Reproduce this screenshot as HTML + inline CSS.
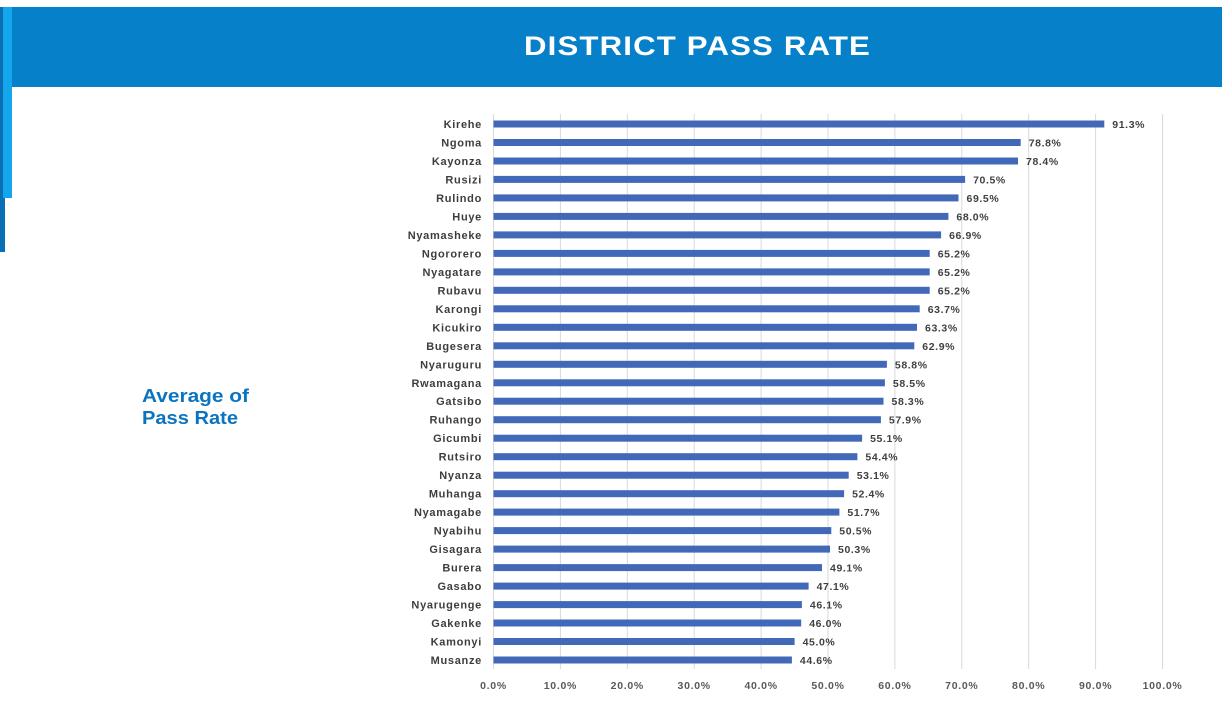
<!DOCTYPE html>
<html><head><meta charset="utf-8">
<style>
html,body{margin:0;padding:0;background:#fff;}
body{width:1222px;height:719px;overflow:hidden;}
svg{display:block;overflow:hidden;}
.cat{font-family:"Liberation Sans",sans-serif;font-weight:bold;font-size:11px;fill:#3d3d3d;letter-spacing:0.7px;}
.val{font-family:"Liberation Sans",sans-serif;font-weight:bold;font-size:10.5px;fill:#404040;letter-spacing:0.6px;}
.tick{font-family:"Liberation Sans",sans-serif;font-weight:bold;font-size:10.5px;fill:#595959;letter-spacing:0.7px;}
</style></head>
<body>
<svg width="1222" height="719" viewBox="0 0 1222 719" xmlns="http://www.w3.org/2000/svg">
<rect width="1222" height="719" fill="#ffffff"/>
<!-- header -->
<rect x="0" y="7" width="1222" height="80" fill="#0680c8"/>
<rect x="0" y="7" width="5" height="245" fill="#0a6fb5"/>
<rect x="3" y="7" width="9" height="191" fill="#14a6ec"/>
<text x="524" y="55" font-family="Liberation Sans, sans-serif" font-weight="bold" font-size="27" fill="#ffffff" letter-spacing="1" textLength="347" lengthAdjust="spacingAndGlyphs">DISTRICT PASS RATE</text>

<!-- axis title -->
<text x="142" y="402" font-family="Liberation Sans, sans-serif" font-weight="bold" font-size="18.5" fill="#0b74c0" textLength="107" lengthAdjust="spacingAndGlyphs">Average of</text>
<text x="142" y="424" font-family="Liberation Sans, sans-serif" font-weight="bold" font-size="18.5" fill="#0b74c0" textLength="96" lengthAdjust="spacingAndGlyphs">Pass Rate</text>

<!-- gridlines -->
<g stroke="#d9d9d9" stroke-width="1">
<line x1="493.5" y1="114" x2="493.5" y2="669"/>
<line x1="560.4" y1="114" x2="560.4" y2="669"/>
<line x1="627.3" y1="114" x2="627.3" y2="669"/>
<line x1="694.2" y1="114" x2="694.2" y2="669"/>
<line x1="761.1" y1="114" x2="761.1" y2="669"/>
<line x1="828" y1="114" x2="828" y2="669"/>
<line x1="894.9" y1="114" x2="894.9" y2="669"/>
<line x1="961.8" y1="114" x2="961.8" y2="669"/>
<line x1="1028.7" y1="114" x2="1028.7" y2="669"/>
<line x1="1095.6" y1="114" x2="1095.6" y2="669"/>
<line x1="1162.5" y1="114" x2="1162.5" y2="669"/>
</g>

<!-- tick labels -->
<g class="tick" text-anchor="middle">
<text x="493.5" y="689">0.0%</text>
<text x="560.4" y="689">10.0%</text>
<text x="627.3" y="689">20.0%</text>
<text x="694.2" y="689">30.0%</text>
<text x="761.1" y="689">40.0%</text>
<text x="828" y="689">50.0%</text>
<text x="894.9" y="689">60.0%</text>
<text x="961.8" y="689">70.0%</text>
<text x="1028.7" y="689">80.0%</text>
<text x="1095.6" y="689">90.0%</text>
<text x="1162.5" y="689">100.0%</text>
</g>

<!-- bars -->
<g fill="#4169b8">
<rect x="493.5" y="120.5" width="610.8" height="7"/>
<rect x="493.5" y="139.0" width="527.2" height="7"/>
<rect x="493.5" y="157.5" width="524.5" height="7"/>
<rect x="493.5" y="175.9" width="471.6" height="7"/>
<rect x="493.5" y="194.4" width="465.0" height="7"/>
<rect x="493.5" y="212.9" width="454.9" height="7"/>
<rect x="493.5" y="231.4" width="447.6" height="7"/>
<rect x="493.5" y="249.9" width="436.2" height="7"/>
<rect x="493.5" y="268.4" width="436.2" height="7"/>
<rect x="493.5" y="286.8" width="436.2" height="7"/>
<rect x="493.5" y="305.3" width="426.2" height="7"/>
<rect x="493.5" y="323.8" width="423.5" height="7"/>
<rect x="493.5" y="342.3" width="420.8" height="7"/>
<rect x="493.5" y="360.8" width="393.4" height="7"/>
<rect x="493.5" y="379.3" width="391.4" height="7"/>
<rect x="493.5" y="397.7" width="390.0" height="7"/>
<rect x="493.5" y="416.2" width="387.4" height="7"/>
<rect x="493.5" y="434.7" width="368.6" height="7"/>
<rect x="493.5" y="453.2" width="363.9" height="7"/>
<rect x="493.5" y="471.7" width="355.2" height="7"/>
<rect x="493.5" y="490.2" width="350.6" height="7"/>
<rect x="493.5" y="508.6" width="345.9" height="7"/>
<rect x="493.5" y="527.1" width="337.8" height="7"/>
<rect x="493.5" y="545.6" width="336.5" height="7"/>
<rect x="493.5" y="564.1" width="328.5" height="7"/>
<rect x="493.5" y="582.6" width="315.1" height="7"/>
<rect x="493.5" y="601.1" width="308.4" height="7"/>
<rect x="493.5" y="619.5" width="307.7" height="7"/>
<rect x="493.5" y="638.0" width="301.1" height="7"/>
<rect x="493.5" y="656.5" width="298.4" height="7"/>
</g>

<!-- category labels -->
<g class="cat" text-anchor="end">
<text x="482" y="128">Kirehe</text>
<text x="482" y="146.5">Ngoma</text>
<text x="482" y="165">Kayonza</text>
<text x="482" y="183.4">Rusizi</text>
<text x="482" y="201.9">Rulindo</text>
<text x="482" y="220.4">Huye</text>
<text x="482" y="238.9">Nyamasheke</text>
<text x="482" y="257.4">Ngororero</text>
<text x="482" y="275.9">Nyagatare</text>
<text x="482" y="294.3">Rubavu</text>
<text x="482" y="312.8">Karongi</text>
<text x="482" y="331.3">Kicukiro</text>
<text x="482" y="349.8">Bugesera</text>
<text x="482" y="368.3">Nyaruguru</text>
<text x="482" y="386.8">Rwamagana</text>
<text x="482" y="405.2">Gatsibo</text>
<text x="482" y="423.7">Ruhango</text>
<text x="482" y="442.2">Gicumbi</text>
<text x="482" y="460.7">Rutsiro</text>
<text x="482" y="479.2">Nyanza</text>
<text x="482" y="497.7">Muhanga</text>
<text x="482" y="516.1">Nyamagabe</text>
<text x="482" y="534.6">Nyabihu</text>
<text x="482" y="553.1">Gisagara</text>
<text x="482" y="571.6">Burera</text>
<text x="482" y="590.1">Gasabo</text>
<text x="482" y="608.6">Nyarugenge</text>
<text x="482" y="627">Gakenke</text>
<text x="482" y="645.5">Kamonyi</text>
<text x="482" y="664">Musanze</text>
</g>

<!-- value labels -->
<g class="val">
<text x="1112.3" y="128">91.3%</text>
<text x="1028.7" y="146.5">78.8%</text>
<text x="1026.0" y="165">78.4%</text>
<text x="973.1" y="183.4">70.5%</text>
<text x="966.5" y="201.9">69.5%</text>
<text x="956.4" y="220.4">68.0%</text>
<text x="949.1" y="238.9">66.9%</text>
<text x="937.7" y="257.4">65.2%</text>
<text x="937.7" y="275.9">65.2%</text>
<text x="937.7" y="294.3">65.2%</text>
<text x="927.7" y="312.8">63.7%</text>
<text x="925.0" y="331.3">63.3%</text>
<text x="922.3" y="349.8">62.9%</text>
<text x="894.9" y="368.3">58.8%</text>
<text x="892.9" y="386.8">58.5%</text>
<text x="891.5" y="405.2">58.3%</text>
<text x="888.9" y="423.7">57.9%</text>
<text x="870.1" y="442.2">55.1%</text>
<text x="865.4" y="460.7">54.4%</text>
<text x="856.7" y="479.2">53.1%</text>
<text x="852.1" y="497.7">52.4%</text>
<text x="847.4" y="516.1">51.7%</text>
<text x="839.3" y="534.6">50.5%</text>
<text x="838.0" y="553.1">50.3%</text>
<text x="830.0" y="571.6">49.1%</text>
<text x="816.6" y="590.1">47.1%</text>
<text x="809.9" y="608.6">46.1%</text>
<text x="809.2" y="627">46.0%</text>
<text x="802.6" y="645.5">45.0%</text>
<text x="799.9" y="664">44.6%</text>
</g>
</svg>
</body></html>
